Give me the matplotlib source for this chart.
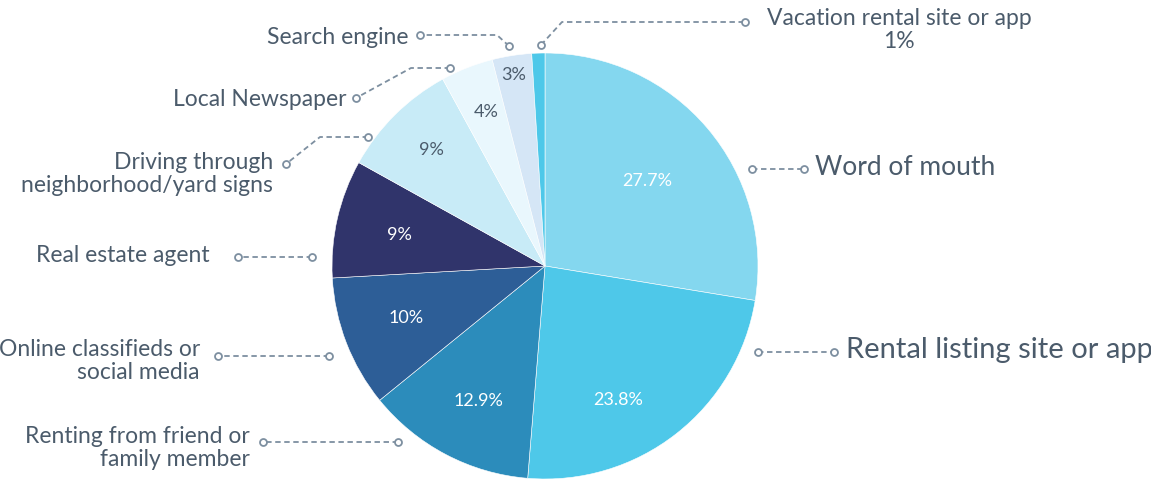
import matplotlib.pyplot as plt

# Data
categories = ['Word of mouth', 'Rental listing site or app', 'Renting from friend or\nfamily member',
              'Online classifieds or\nsocial media', 'Real estate agent',
              'Driving through\nneighborhood/yard signs', 'Local Newspaper', 'Search engine',
              'Vacation rental site or app\n1%']
values = [27.7, 23.8, 12.9, 10, 9, 9, 4, 3, 1]
pct_labels = ['27.7%', '23.8%', '12.9%', '10%', '9%', '9%', '4%', '3%', '']

colors = ['#84D7EF', '#4EC8E9', '#2C8CBB', '#2D5E97', '#30346B',
          '#C8EBF7', '#E9F7FD', '#D5E6F6', '#4EC8E9']
pct_colors = ['white'] * 5 + ['#4B5B6B'] * 4

TEXT = '#4B5B6B'
LINE = '#7D8FA0'
W, H = 1151, 479
FONT = 'Lato'


def P(x, y):
    # pixel coords (origin top-left) -> data coords
    return x, H - y


# percent label positions (pixels)
pct_pos = [(647, 181), (618, 400), (478, 401), (406, 318), (399, 235),
           (431, 150), (486, 112), (514, 75), (0, 0)]

# leader lines in pixel coords, label anchor, alignment, font size
leaders = [
    ([(752, 169), (804, 169)], (815, 167), 'left', 19),
    ([(758, 352), (834, 352)], (846, 350), 'left', 21),
    ([(398, 442), (263, 442)], (250, 448), 'right', 16.5),
    ([(329, 356), (218, 356)], (200, 361), 'right', 16.5),
    ([(312, 257), (238, 257)], (210, 256), 'right', 16.5),
    ([(368, 137), (320, 137), (286, 164)], (273, 174), 'right', 16.5),
    ([(450, 68), (411, 68), (356, 98)], (347, 99), 'right', 16.5),
    ([(509, 46), (497, 35), (420, 35)], (409, 37), 'right', 16.5),
    ([(541, 45), (562, 22), (745, 22)], (899, 30), 'center', 16.5),
]

fig = plt.figure(figsize=(W / 100, H / 100), dpi=100)
ax = fig.add_axes([0, 0, 1, 1])

cx, cy = P(545, 266)
wedges, _ = ax.pie(values, colors=colors, startangle=90, counterclock=False,
                   center=(cx, cy), radius=213,
                   wedgeprops=dict(linewidth=0.4, edgecolor='white'))

for pos, lab, c in zip(pct_pos, pct_labels, pct_colors):
    ax.text(*P(*pos), lab, ha='center', va='center', color=c, fontsize=13, family=FONT)

for (pts, lpos, ha, fs), cat in zip(leaders, categories):
    xs = [p[0] for p in pts]
    ys = [H - p[1] for p in pts]
    ax.plot(xs, ys, color=LINE, lw=1.3, ls=(0, (3, 2)))
    ax.plot([xs[0], xs[-1]], [ys[0], ys[-1]], 'o', ms=5, mfc='white', mec=LINE, mew=1.3)
    ax.text(*P(*lpos), cat, ha=ha, va='center', color=TEXT, fontsize=fs, family=FONT,
            multialignment=ha, linespacing=1.15)

ax.set_xlim(0, W)
ax.set_ylim(0, H)
ax.set_aspect('equal')
ax.axis('off')
fig.savefig('out.png', dpi=100)
